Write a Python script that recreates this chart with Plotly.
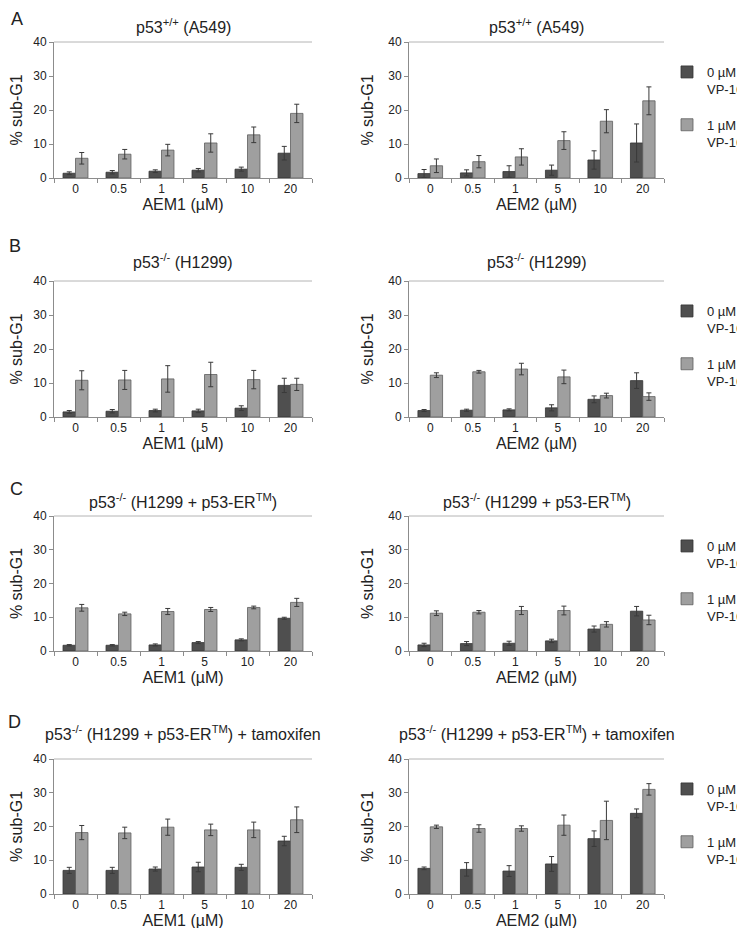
import plotly.graph_objects as go

conc = ["0", "0.5", "1", "5", "10", "20"]

# Panel A: p53+/+ (A549)
A_AEM1_0 = [1.4, 1.7, 2.0, 2.3, 2.6, 7.3]
A_AEM1_0_err = [0.4, 0.5, 0.4, 0.5, 0.6, 2.0]
A_AEM1_1 = [5.8, 7.0, 8.2, 10.3, 12.7, 19.0]
A_AEM1_1_err = [1.7, 1.4, 1.7, 2.7, 2.3, 2.7]
A_AEM2_0 = [1.3, 1.5, 1.9, 2.3, 5.3, 10.3]
A_AEM2_0_err = [1.2, 0.9, 1.7, 1.5, 2.7, 5.6]
A_AEM2_1 = [3.6, 4.8, 6.2, 11.0, 16.7, 22.7]
A_AEM2_1_err = [2.0, 1.8, 2.4, 2.6, 3.4, 4.1]

# Panel B: p53-/- (H1299)
B_AEM1_0 = [1.5, 1.7, 1.9, 1.8, 2.6, 9.3]
B_AEM1_0_err = [0.4, 0.5, 0.4, 0.5, 0.7, 2.1]
B_AEM1_1 = [10.8, 10.9, 11.2, 12.5, 11.0, 9.6]
B_AEM1_1_err = [2.8, 2.8, 3.9, 3.6, 2.7, 1.8]
B_AEM2_0 = [1.9, 2.0, 2.1, 2.7, 5.2, 10.7]
B_AEM2_0_err = [0.3, 0.3, 0.3, 0.9, 1.0, 2.3]
B_AEM2_1 = [12.3, 13.3, 14.1, 11.8, 6.3, 6.0]
B_AEM2_1_err = [0.7, 0.4, 1.7, 2.0, 0.7, 1.1]

# Panel C: p53-/- (H1299 + p53-ER TM)
C_AEM1_0 = [1.7, 1.7, 1.8, 2.5, 3.3, 9.7]
C_AEM1_0_err = [0.2, 0.2, 0.3, 0.3, 0.3, 0.3]
C_AEM1_1 = [12.8, 11.0, 11.7, 12.3, 12.9, 14.4]
C_AEM1_1_err = [1.0, 0.5, 0.9, 0.6, 0.4, 1.2]
C_AEM2_0 = [1.8, 2.2, 2.3, 3.0, 6.5, 11.8]
C_AEM2_0_err = [0.5, 0.6, 0.6, 0.5, 0.9, 1.4]
C_AEM2_1 = [11.2, 11.5, 12.0, 12.0, 7.9, 9.2]
C_AEM2_1_err = [0.7, 0.5, 1.2, 1.3, 0.8, 1.4]

# Panel D: p53-/- (H1299 + p53-ER TM) + tamoxifen
D_AEM1_0 = [7.0, 7.0, 7.4, 8.0, 7.9, 15.7]
D_AEM1_0_err = [0.9, 0.9, 0.6, 1.4, 0.9, 1.4]
D_AEM1_1 = [18.2, 18.1, 19.8, 19.0, 19.0, 22.0]
D_AEM1_1_err = [2.1, 1.7, 2.4, 1.7, 2.3, 3.8]
D_AEM2_0 = [7.6, 7.3, 6.8, 8.9, 16.4, 23.9]
D_AEM2_0_err = [0.4, 2.0, 1.6, 2.2, 2.3, 1.3]
D_AEM2_1 = [19.9, 19.4, 19.4, 20.4, 21.8, 31.0]
D_AEM2_1_err = [0.5, 1.1, 0.8, 3.0, 5.7, 1.7]

row_titles = [
    "p53<sup>+/+</sup> (A549)",
    "p53<sup>-/-</sup> (H1299)",
    "p53<sup>-/-</sup> (H1299 + p53-ER<sup>TM</sup>)",
    "p53<sup>-/-</sup> (H1299 + p53-ER<sup>TM</sup>) + tamoxifen",
]
row_letters = ["A", "B", "C", "D"]
x_titles = ["AEM1 (µM)", "AEM2 (µM)"]
series_names = ["0 µM<br>VP-16", "1 µM<br>VP-16"]
y_title = "% sub-G1"
y_ticks = [0, 10, 20, 30, 40]

panels = [
    [(A_AEM1_0, A_AEM1_0_err, A_AEM1_1, A_AEM1_1_err), (A_AEM2_0, A_AEM2_0_err, A_AEM2_1, A_AEM2_1_err)],
    [(B_AEM1_0, B_AEM1_0_err, B_AEM1_1, B_AEM1_1_err), (B_AEM2_0, B_AEM2_0_err, B_AEM2_1, B_AEM2_1_err)],
    [(C_AEM1_0, C_AEM1_0_err, C_AEM1_1, C_AEM1_1_err), (C_AEM2_0, C_AEM2_0_err, C_AEM2_1, C_AEM2_1_err)],
    [(D_AEM1_0, D_AEM1_0_err, D_AEM1_1, D_AEM1_1_err), (D_AEM2_0, D_AEM2_0_err, D_AEM2_1, D_AEM2_1_err)],
]

W, H = 745, 928
col_px = [(46, 304), (401, 656)]
row_px = [(34, 170), (273, 409), (508, 643), (751, 886)]
title_y_px = [18, 253, 493, 725]
letter_px = [(9, 11), (7, 238), (8, 481), (7, 714)]

DARK = "#4f4f4f"
LIGHT = "#9f9f9f"
AXIS_DARK = "#8c8c8c"
AXIS_LIGHT = "#b4b4b4"
TXT = "#222222"
FONT = "Liberation Sans, Arial, sans-serif"

fig = go.Figure()
layout = dict(
    width=W, height=H,
    margin=dict(l=0, r=0, t=0, b=0),
    paper_bgcolor="white", plot_bgcolor="white",
    font=dict(family=FONT, color=TXT, size=12),
    barmode="group", bargap=0.42, bargroupgap=0.0,
    showlegend=True,
    annotations=[], shapes=[],
)

def yd(p):
    return 1 - p / H

for r in range(4):
    top, bot = row_px[r]
    legend_key = "legend" if r == 0 else f"legend{r + 1}"
    layout[legend_key] = dict(
        x=659 / W, xanchor="left", y=yd(top + 15), yanchor="top",
        font=dict(size=13, color=TXT, family=FONT),
        bgcolor="rgba(0,0,0,0)", valign="top", tracegroupgap=16,
        itemclick=False, itemdoubleclick=False,
    )
    for c in range(2):
        i = r * 2 + c
        xn = i + 1
        yl = 2 * i + 1
        yr = 2 * i + 2
        xname = "x" if xn == 1 else f"x{xn}"
        ylname = "y" if yl == 1 else f"y{yl}"
        left, right = col_px[c]
        layout["xaxis" if xn == 1 else f"xaxis{xn}"] = dict(
            domain=[left / W, right / W], anchor=ylname, type="category",
            showline=True, linecolor=AXIS_DARK, linewidth=1,
            ticks="outside", tickson="boundaries", ticklen=4, tickcolor=AXIS_DARK,
            showgrid=False, zeroline=False, automargin=False,
            tickfont=dict(size=12, color=TXT),
            title=dict(text=x_titles[c], font=dict(size=16, color=TXT), standoff=0),
        )
        layout["yaxis" if yl == 1 else f"yaxis{yl}"] = dict(
            domain=[yd(bot), yd(top)], anchor=xname, range=[0, 40],
            tickvals=y_ticks, showline=True, linecolor=AXIS_DARK, linewidth=1,
            ticks="outside", ticklen=4, tickcolor=AXIS_DARK,
            showgrid=False, zeroline=False, automargin=False,
            tickfont=dict(size=12, color=TXT),
            title=dict(text=y_title, font=dict(size=16, color=TXT), standoff=10),
        )
        layout[f"yaxis{yr}"] = dict(
            overlaying=ylname, anchor=xname, side="right", range=[0, 40],
            tickvals=y_ticks, showline=True, linecolor=AXIS_LIGHT, linewidth=1,
            ticks="outside", ticklen=4, tickcolor=AXIS_LIGHT,
            showgrid=False, zeroline=False, automargin=False,
            tickfont=dict(size=12, color=TXT),
        )
        # top border of plot box
        layout["shapes"].append(dict(
            type="line", xref=f"{xname} domain", yref=f"{ylname} domain",
            x0=0, x1=1, y0=1, y1=1, line=dict(color=AXIS_LIGHT, width=1),
        ))
        v0, e0, v1, e1 = panels[r][c]
        for s, (vals, errs, col, lcol) in enumerate([(v0, e0, DARK, "#333333"), (v1, e1, LIGHT, "#5e5e5e")]):
            fig.add_trace(go.Bar(
                x=conc, y=vals, name=series_names[s],
                xaxis=xname, yaxis=ylname,
                marker=dict(color=col, line=dict(color=lcol, width=0.8)),
                error_y=dict(type="data", array=errs, visible=True,
                             color="#3a3a3a", thickness=1, width=2.5),
                showlegend=(c == 1), legend=legend_key,
                legendgroup=f"g{r}_{s}",
            ))
        layout["annotations"].append(dict(
            text=row_titles[r], xref="paper", yref="paper",
            x=((left + right) / 2) / W, y=yd(title_y_px[r]),
            xanchor="center", yanchor="middle", showarrow=False,
            font=dict(size=16, color=TXT, family=FONT),
        ))
    lx, ly = letter_px[r]
    layout["annotations"].append(dict(
        text=row_letters[r], xref="paper", yref="paper",
        x=lx / W, y=yd(ly), xanchor="center", yanchor="middle",
        showarrow=False, font=dict(size=18, color=TXT, family=FONT),
    ))

fig.update_layout(**layout)
fig.write_html("out.html")
